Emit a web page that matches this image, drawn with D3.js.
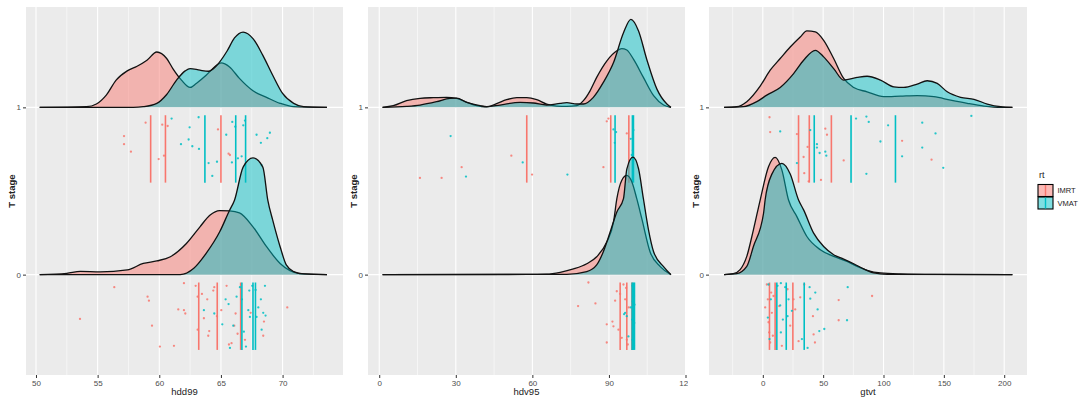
<!DOCTYPE html>
<html>
<head>
<meta charset="utf-8">
<script src="https://cdn.jsdelivr.net/npm/d3@7"></script>
<style>
body{margin:0;background:#fff;}
svg{font-family:"Liberation Sans",Arial,sans-serif;}
</style>
</head>
<body>
<svg id="chart" width="1084" height="399"></svg>
<script>
// categories
var stages = [1, 0]
var groups = ["IMRT", "VMAT"]

// x tick labels of each panel
var hdd99Ticks = [50, 55, 60, 65, 70]
var hdv95Ticks = [0, 30, 60, 90, 120]
var gtvtTicks = [0, 50, 100, 150, 200]

// density curves: [value, height in T stage units]
var hdd99Ridges = [
  {stage:1, rt:"IMRT", d:[[50.3,0],[54.1,0.004],[54.9,0.02],[55.7,0.073],[56.5,0.163],[57.4,0.218],[58.2,0.246],[59.0,0.282],[59.8,0.331],[60.6,0.292],[61.1,0.232],[61.8,0.163],[62.5,0.119],[63.0,0.143],[63.8,0.192],[64.5,0.242],[65.0,0.266],[65.7,0.242],[66.5,0.173],[67.6,0.099],[68.7,0.06],[69.8,0.024],[70.9,0.004],[73.6,0]]},
  {stage:1, rt:"VMAT", d:[[50.3,0],[57.9,0],[58.7,0.004],[59.8,0.024],[60.6,0.077],[61.4,0.163],[62.1,0.218],[62.5,0.232],[63.3,0.222],[64.0,0.216],[64.6,0.246],[65.5,0.337],[66.1,0.415],[66.8,0.45],[67.6,0.411],[68.4,0.311],[69.2,0.192],[70.0,0.083],[70.9,0.024],[71.7,0.004],[73.6,0]]},
  {stage:0, rt:"IMRT", d:[[50.3,0],[52.5,0.008],[53.6,0.02],[55.2,0.016],[57.4,0.028],[58.7,0.067],[59.8,0.082],[60.9,0.107],[62.2,0.186],[63.3,0.286],[64.1,0.355],[64.9,0.383],[65.7,0.381],[66.5,0.369],[67.6,0.286],[68.7,0.167],[69.8,0.067],[70.6,0.024],[71.4,0.006],[73.6,0]]},
  {stage:0, rt:"VMAT", d:[[50.3,0],[57.9,0],[61.7,0],[62.8,0.038],[63.8,0.127],[64.9,0.256],[65.7,0.385],[66.1,0.445],[66.8,0.643],[67.6,0.698],[68.4,0.643],[68.8,0.445],[69.2,0.326],[69.8,0.167],[70.3,0.058],[70.9,0.018],[71.7,0.004],[73.6,0]]}
]
var hdv95Ridges = [
  {stage:1, rt:"IMRT", d:[[1.3,0],[5.5,0.010],[10.7,0.040],[16.0,0.054],[21.2,0.058],[26.4,0.060],[30.3,0.054],[34.3,0.030],[38.2,0.010],[42.1,0.003],[46.0,0.022],[49.9,0.046],[53.9,0.058],[57.8,0.058],[61.7,0.046],[65.6,0.020],[69.5,0.008],[73.5,0.006],[77.4,0.010],[80.0,0.040],[82.6,0.099],[85.2,0.179],[89.2,0.278],[93.1,0.338],[95.0,0.351],[97.0,0.343],[99.6,0.288],[103.5,0.179],[107.5,0.070],[111.4,0.014],[114.3,0]]},
  {stage:1, rt:"VMAT", d:[[1.3,0],[10.7,0.006],[16.0,0.014],[22.5,0.034],[27.7,0.054],[30.3,0.055],[34.3,0.030],[39.5,0.010],[42.1,0.004],[47.3,0.014],[55.2,0.030],[60.4,0.026],[65.6,0.014],[70.9,0.024],[73.5,0.028],[77.4,0.020],[80.0,0.020],[83.9,0.060],[87.8,0.149],[91.8,0.268],[95.7,0.446],[98.6,0.526],[101.6,0.457],[104.8,0.288],[108.8,0.109],[112.7,0.020],[114.3,0]]},
  {stage:0, rt:"IMRT", d:[[1.3,0],[57.8,0.001],[65.6,0.003],[70.9,0.014],[76.1,0.034],[81.3,0.065],[85.2,0.107],[89.2,0.196],[91.8,0.315],[93.1,0.454],[95.0,0.563],[97.0,0.593],[99.0,0.554],[100.9,0.454],[102.9,0.333],[106.1,0.137],[110.1,0.048],[114.3,0]]},
  {stage:0, rt:"VMAT", d:[[1.3,0],[73.5,0.002],[81.3,0.018],[85.2,0.058],[87.8,0.137],[90.5,0.256],[93.1,0.375],[95.7,0.454],[97.0,0.631],[99.4,0.702],[101.6,0.633],[103.5,0.454],[105.5,0.268],[107.5,0.137],[111.4,0.048],[114.3,0]]}
]
var gtvtRidges = [
  {stage:1, rt:"IMRT", d:[[-32.1,0],[-21.6,0.004],[-13.3,0.034],[-2.2,0.127],[6.1,0.222],[14.4,0.292],[22.7,0.361],[31.0,0.421],[36.5,0.457],[43.5,0.451],[50.4,0.401],[58.7,0.292],[67.0,0.173],[75.3,0.119],[86.4,0.093],[100.2,0.064],[114.1,0.067],[127.9,0.070],[141.7,0.064],[155.6,0.043],[169.4,0.024],[183.3,0.008],[197.1,0],[206.8,0]]},
  {stage:1, rt:"VMAT", d:[[-32.1,0],[-16.1,0.004],[-5.0,0.034],[3.3,0.073],[14.4,0.119],[25.5,0.202],[33.8,0.282],[43.5,0.341],[50.4,0.302],[58.7,0.232],[67.0,0.163],[78.1,0.179],[86.4,0.186],[97.5,0.163],[108.5,0.123],[116.8,0.119],[127.9,0.139],[136.2,0.159],[144.5,0.143],[152.8,0.093],[163.9,0.060],[175.0,0.048],[186.0,0.020],[197.1,0.004],[206.8,0]]},
  {stage:0, rt:"IMRT", d:[[-32.1,0],[-24.4,0.006],[-18.8,0.030],[-13.3,0.109],[-7.8,0.268],[-2.2,0.446],[4.7,0.645],[10.2,0.701],[15.8,0.625],[21.3,0.446],[28.2,0.347],[36.5,0.228],[47.6,0.149],[58.7,0.109],[69.8,0.079],[78.1,0.049],[86.4,0.026],[97.5,0.010],[114.1,0.004],[141.7,0.001],[206.8,0]]},
  {stage:0, rt:"VMAT", d:[[-32.1,0],[-21.6,0.006],[-13.3,0.049],[-7.8,0.168],[0.6,0.367],[1.9,0.446],[7.5,0.601],[15.8,0.665],[22.7,0.601],[29.6,0.446],[33.8,0.387],[42.1,0.248],[50.4,0.168],[58.7,0.119],[67.0,0.093],[75.3,0.065],[83.6,0.034],[91.9,0.010],[103.0,0.002],[206.8,0]]}
]

// quantile lines: [stage, rt, value]
var hdd99Quantiles = [[1,"IMRT",59.3],[1,"IMRT",60.5],[1,"IMRT",65.0],[1,"VMAT",63.7],[1,"VMAT",66.2],[1,"VMAT",67.0],
  [0,"IMRT",63.2],[0,"IMRT",64.7],[0,"IMRT",66.6],[0,"VMAT",66.7],[0,"VMAT",67.6],[0,"VMAT",67.8]]
var hdv95Quantiles = [[1,"IMRT",57.8],[1,"IMRT",90.7],[1,"IMRT",97.8],[1,"VMAT",92.4],[1,"VMAT",99.2],[1,"VMAT",99.6],
  [0,"IMRT",94.4],[0,"IMRT",97.0],[0,"IMRT",99.0],[0,"VMAT",99.1],[0,"VMAT",99.6],[0,"VMAT",100.0]]
var gtvtQuantiles = [[1,"IMRT",29.6],[1,"IMRT",38.5],[1,"IMRT",56.8],[1,"VMAT",42.6],[1,"VMAT",73.1],[1,"VMAT",109.9],
  [0,"IMRT",5.5],[0,"IMRT",10.2],[0,"IMRT",24.9],[0,"VMAT",11.6],[0,"VMAT",19.4],[0,"VMAT",34.3]]

// jittered points: [stage, rt, value, jitter 0..1]
var hdd99Points = [
  [1,"IMRT",57.14,0.31],[1,"IMRT",57.14,0.43],[1,"IMRT",57.70,0.54],[1,"IMRT",58.89,0.11],[1,"IMRT",59.95,0.65],[1,"IMRT",60.24,0.14],
  [1,"IMRT",60.38,0.60],[1,"IMRT",60.68,0.16],[1,"IMRT",64.76,0.21],[1,"IMRT",65.62,0.57],[1,"IMRT",65.73,0.59],
  [1,"VMAT",61.0,0.05],[1,"VMAT",61.76,0.43],[1,"VMAT",62.38,0.36],[1,"VMAT",62.46,0.18],[1,"VMAT",62.68,0.46],[1,"VMAT",63.19,0.03],
  [1,"VMAT",63.22,0.50],[1,"VMAT",64.0,0.71],[1,"VMAT",64.30,0.90],[1,"VMAT",64.68,0.69],[1,"VMAT",65.43,0.29],[1,"VMAT",65.89,0.70],
  [1,"VMAT",65.92,0.10],[1,"VMAT",66.16,0.17],[1,"VMAT",66.38,0.64],[1,"VMAT",66.68,0.61],[1,"VMAT",66.81,0.15],[1,"VMAT",66.95,0.08],
  [1,"VMAT",67.89,0.29],[1,"VMAT",68.24,0.41],[1,"VMAT",68.30,0.74],[1,"VMAT",68.76,0.34],[1,"VMAT",68.97,0.26],
  [0,"IMRT",53.57,0.54],[0,"IMRT",56.35,0.07],[0,"IMRT",59.05,0.21],[0,"IMRT",59.16,0.27],[0,"IMRT",59.41,0.64],[0,"IMRT",60.05,0.95],
  [0,"IMRT",61.19,0.94],[0,"IMRT",61.54,0.40],[0,"IMRT",62.0,0.01],[0,"IMRT",62.0,0.41],[0,"IMRT",62.11,0.46],[0,"IMRT",62.95,0.05],
  [0,"IMRT",63.11,0.21],[0,"IMRT",63.11,0.70],[0,"IMRT",63.46,0.17],[0,"IMRT",63.62,0.53],[0,"IMRT",63.89,0.25],[0,"IMRT",63.97,0.79],
  [0,"IMRT",64.05,0.72],[0,"IMRT",64.38,0.12],[0,"IMRT",64.46,0.07],[0,"IMRT",64.68,0.50],[0,"IMRT",65.03,0.41],[0,"IMRT",65.46,0.05],
  [0,"IMRT",65.65,0.92],[0,"IMRT",65.86,0.90],[0,"IMRT",66.08,0.64],[0,"IMRT",66.19,0.46],[0,"IMRT",66.35,0.76],[0,"IMRT",66.95,0.85],
  [0,"IMRT",67.41,0.45],[0,"IMRT",68.43,0.79],[0,"IMRT",68.49,0.58],[0,"IMRT",70.38,0.37],
  [0,"VMAT",63.62,0.41],[0,"VMAT",64.46,0.46],[0,"VMAT",65.11,0.62],[0,"VMAT",65.38,0.25],[0,"VMAT",65.62,0.32],[0,"VMAT",65.73,0.97],
  [0,"VMAT",66.0,0.64],[0,"VMAT",66.27,0.21],[0,"VMAT",66.54,0.07],[0,"VMAT",66.70,0.25],[0,"VMAT",66.86,0.73],[0,"VMAT",67.03,0.95],
  [0,"VMAT",67.22,0.41],[0,"VMAT",67.30,0.12],[0,"VMAT",67.35,0.51],[0,"VMAT",67.54,0.05],[0,"VMAT",67.81,0.11],[0,"VMAT",67.89,0.51],
  [0,"VMAT",68.03,0.37],[0,"VMAT",68.24,0.25],[0,"VMAT",68.43,0.45],[0,"VMAT",68.57,0.05],[0,"VMAT",68.62,0.49],[0,"VMAT",68.30,0.70]
]
var hdv95Points = [
  [1,"IMRT",15.95,0.93],[1,"IMRT",24.44,0.93],[1,"IMRT",32.29,0.77],[1,"IMRT",51.76,0.60],[1,"IMRT",59.87,0.88],[1,"IMRT",87.84,0.77],
  [1,"IMRT",89.15,0.09],[1,"IMRT",89.80,0.05],[1,"IMRT",96.99,0.27],
  [1,"VMAT",27.97,0.31],[1,"VMAT",33.99,0.91],[1,"VMAT",56.21,0.70],[1,"VMAT",73.73,0.88],[1,"VMAT",91.76,0.21],[1,"VMAT",92.81,0.25],
  [1,"VMAT",92.29,0.41],[1,"VMAT",99.35,0.52],[1,"VMAT",98.95,0.59],[1,"VMAT",99.61,0.22],[1,"VMAT",98.56,0.35],
  [0,"IMRT",81.96,0.0],[0,"IMRT",77.91,0.35],[0,"IMRT",84.71,0.31],[0,"IMRT",89.15,0.62],[0,"IMRT",89.15,0.89],[0,"IMRT",91.37,0.58],
  [0,"IMRT",91.76,0.65],[0,"IMRT",92.42,0.27],[0,"IMRT",93.07,0.13],[0,"IMRT",93.73,0.70],[0,"IMRT",94.38,0.17],[0,"IMRT",95.03,0.82],
  [0,"IMRT",95.69,0.03],[0,"IMRT",96.34,0.25],[0,"IMRT",96.73,0.08],[0,"IMRT",96.99,0.85],[0,"IMRT",97.39,0.92],[0,"IMRT",97.78,0.37],
  [0,"VMAT",95.95,0.47],[0,"VMAT",96.34,0.45],[0,"VMAT",96.99,0.50],[0,"VMAT",97.65,0.80],[0,"VMAT",98.56,0.37],
  [0,"VMAT",99.2,0.05],[0,"VMAT",99.5,0.12],[0,"VMAT",99.8,0.20],[0,"VMAT",99.3,0.28],[0,"VMAT",100.0,0.33],[0,"VMAT",99.6,0.42],
  [0,"VMAT",99.1,0.55],[0,"VMAT",99.9,0.60],[0,"VMAT",99.4,0.68],[0,"VMAT",99.7,0.75],[0,"VMAT",99.2,0.85],[0,"VMAT",99.8,0.93],[0,"VMAT",99.5,0.98]
]
var gtvtPoints = [
  [1,"IMRT",5.54,0.03],[1,"IMRT",6.09,0.25],[1,"IMRT",28.24,0.28],[1,"IMRT",34.33,0.86],[1,"IMRT",33.78,0.62],[1,"IMRT",37.10,0.47],
  [1,"IMRT",37.93,0.98],[1,"IMRT",48.17,0.96],[1,"IMRT",51.77,0.20],[1,"IMRT",53.16,0.29],[1,"IMRT",67.0,0.67],[1,"IMRT",115.4,0.38],[1,"IMRT",139.8,0.66],
  [1,"VMAT",14.40,0.24],[1,"VMAT",28.24,0.71],[1,"VMAT",39.31,0.22],[1,"VMAT",44.85,0.43],[1,"VMAT",44.85,0.48],[1,"VMAT",47.07,0.56],
  [1,"VMAT",51.77,0.54],[1,"VMAT",52.60,0.60],[1,"VMAT",77.24,0.05],[1,"VMAT",85.82,0.02],[1,"VMAT",87.76,0.10],[1,"VMAT",85.82,0.87],
  [1,"VMAT",97.45,0.39],[1,"VMAT",103.8,0.15],[1,"VMAT",115.4,0.61],[1,"VMAT",132.1,0.11],[1,"VMAT",132.1,0.48],[1,"VMAT",143.1,0.27],
  [1,"VMAT",149.5,0.78],[1,"VMAT",172.8,0.01],
  [0,"IMRT",3.32,0.03],[0,"IMRT",1.94,0.37],[0,"IMRT",4.15,0.25],[0,"IMRT",4.71,0.59],[0,"IMRT",5.26,0.74],[0,"IMRT",6.09,0.89],
  [0,"IMRT",6.92,0.15],[0,"IMRT",7.48,0.45],[0,"IMRT",8.31,0.79],[0,"IMRT",8.86,0.20],[0,"IMRT",13.57,0.35],[0,"IMRT",15.78,0.94],
  [0,"IMRT",20.49,0.10],[0,"IMRT",22.70,0.64],[0,"IMRT",25.47,0.25],[0,"IMRT",26.85,0.40],[0,"IMRT",29.62,0.87],[0,"IMRT",31.0,0.22],
  [0,"IMRT",34.33,0.03],[0,"IMRT",41.53,0.50],[0,"IMRT",43.19,0.89],[0,"IMRT",42.08,0.77],[0,"IMRT",62.85,0.26],[0,"IMRT",62.85,0.56],[0,"IMRT",90.53,0.20],
  [0,"VMAT",4.71,0.03],[0,"VMAT",4.15,0.52],[0,"VMAT",5.54,0.84],[0,"VMAT",6.64,0.25],[0,"VMAT",12.18,0.05],[0,"VMAT",14.40,0.34],
  [0,"VMAT",14.95,0.01],[0,"VMAT",14.95,0.74],[0,"VMAT",16.61,0.55],[0,"VMAT",18.55,0.07],[0,"VMAT",20.49,0.50],[0,"VMAT",21.32,0.25],
  [0,"VMAT",24.09,0.42],[0,"VMAT",32.39,0.84],[0,"VMAT",37.10,0.97],[0,"VMAT",38.76,0.07],[0,"VMAT",39.31,0.24],[0,"VMAT",43.47,0.15],
  [0,"VMAT",45.40,0.40],[0,"VMAT",46.79,0.72],[0,"VMAT",50.94,0.69],[0,"VMAT",70.32,0.07],[0,"VMAT",69.77,0.56]
]

var colors = {IMRT:"#F8766D", VMAT:"#00BFC4"}

//layout of the three panels (pixels) and their x domains
var panels = [
  {title:"hdd99", left:26, right:343, clipL:0, clipR:345, titleX:11, domain:[49.19,74.9],
   ticks:hdd99Ticks, ridges:hdd99Ridges, quants:hdd99Quantiles, points:hdd99Points},
  {title:"hdv95", left:368, right:685, clipL:345, clipR:688, titleX:353, domain:[-4.4,119.8],
   ticks:hdv95Ticks, ridges:hdv95Ridges, quants:hdv95Quantiles, points:hdv95Points},
  {title:"gtvt", left:709, right:1027, clipL:688, clipR:1030, titleX:695, domain:[-44.6,218.9],
   ticks:gtvtTicks, ridges:gtvtRidges, quants:gtvtQuantiles, points:gtvtPoints}
]
var plotTop = 7, plotBottom = 375

var svg = d3.select("#chart")
var defs = svg.append("defs")

var drawPanel = function(p, i)
{
    var xScale = d3.scaleLinear().domain(p.domain).range([p.left, p.right])
    var yScale = d3.scaleLinear().domain([-0.6, 1.6]).range([plotBottom, plotTop])

    defs.append("clipPath").attr("id","plot"+i)
        .append("rect").attr("x",p.left).attr("y",plotTop)
        .attr("width",p.right-p.left).attr("height",plotBottom-plotTop)
    defs.append("clipPath").attr("id","img"+i)
        .append("rect").attr("x",p.clipL).attr("y",0)
        .attr("width",p.clipR-p.clipL).attr("height",399)

    var g = svg.append("g").attr("clip-path","url(#img"+i+")")

    g.append("rect")
        .attr("x",p.left).attr("y",plotTop)
        .attr("width",p.right-p.left).attr("height",plotBottom-plotTop)
        .attr("fill","#EBEBEB")

    // minor grid halfway between major ticks
    var step = p.ticks[1]-p.ticks[0]
    var minor = []
    for (var k = -1; k < p.ticks.length; k++) {
        var v = p.ticks[0] + step*(k+0.5)
        if (v > p.domain[0] && v < p.domain[1]) minor.push(v)
    }
    var ticksIn = p.ticks.filter(function(t){ return t >= p.domain[0] && t <= p.domain[1] })

    var plot = g.append("g").attr("clip-path","url(#plot"+i+")")

    plot.selectAll(".minor").data(minor).enter().append("line")
        .attr("x1",function(d){return xScale(d)}).attr("x2",function(d){return xScale(d)})
        .attr("y1",plotTop).attr("y2",plotBottom)
        .attr("stroke","#fff").attr("stroke-width",0.55)
    plot.selectAll(".major").data(ticksIn).enter().append("line")
        .attr("x1",function(d){return xScale(d)}).attr("x2",function(d){return xScale(d)})
        .attr("y1",plotTop).attr("y2",plotBottom)
        .attr("stroke","#fff").attr("stroke-width",1.1)
    plot.selectAll(".hmajor").data(stages).enter().append("line")
        .attr("x1",p.left).attr("x2",p.right)
        .attr("y1",function(d){return yScale(d)}).attr("y2",function(d){return yScale(d)})
        .attr("stroke","#fff").attr("stroke-width",1.1)

    stages.forEach(function(stage)
    {
        groups.forEach(function(rt)
        {
            var r = p.ridges.filter(function(d){return d.stage==stage && d.rt==rt})[0]
            var area = d3.area().curve(d3.curveMonotoneX)
                .x(function(d){return xScale(d[0])})
                .y0(yScale(stage))
                .y1(function(d){return yScale(stage + d[1])})
            var line = d3.line().curve(d3.curveMonotoneX)
                .x(function(d){return xScale(d[0])})
                .y(function(d){return yScale(stage + d[1])})
            plot.append("path").datum(r.d)
                .attr("d",area)
                .attr("fill",colors[rt]).attr("fill-opacity",0.48)
            plot.append("path").datum(r.d)
                .attr("d",line)
                .attr("fill","none").attr("stroke","#111").attr("stroke-width",1.3)
        })
        groups.forEach(function(rt)
        {
            plot.selectAll(null)
                .data(p.quants.filter(function(d){return d[0]==stage && d[1]==rt}))
                .enter().append("line")
                .attr("x1",function(d){return xScale(d[2])}).attr("x2",function(d){return xScale(d[2])})
                .attr("y1",yScale(stage-0.047)).attr("y2",yScale(stage-0.45))
                .attr("stroke",colors[rt]).attr("stroke-width",1.6)
            plot.selectAll(null)
                .data(p.points.filter(function(d){return d[0]==stage && d[1]==rt}))
                .enter().append("circle")
                .attr("cx",function(d){return xScale(d[2])})
                .attr("cy",function(d){return yScale(stage-0.047-d[3]*0.403)})
                .attr("r",1.15)
                .attr("fill",colors[rt]).attr("fill-opacity",0.85)
        })
    })

    drawAxes(g, p, xScale, yScale)
}

var drawAxes = function(g, p, xScale, yScale)
{
    var xAxis = d3.axisBottom(xScale).tickValues(p.ticks).tickSize(3).tickPadding(2)
    var ax = g.append("g")
        .attr("transform","translate(0,"+plotBottom+")")
        .call(xAxis)
    ax.select(".domain").remove()
    ax.selectAll(".tick line").attr("stroke","#333")
    ax.selectAll(".tick text").attr("fill","#4D4D4D").attr("font-size",8)
        .attr("font-family","Liberation Sans, Arial, sans-serif")

    var yAxis = d3.axisLeft(yScale).tickValues(stages).tickSize(3).tickPadding(2)
        .tickFormat(d3.format("d"))
    var ay = g.append("g")
        .attr("transform","translate("+p.left+",0)")
        .call(yAxis)
    ay.select(".domain").remove()
    ay.selectAll(".tick line").attr("stroke","#333")
    ay.selectAll(".tick text").attr("fill","#4D4D4D").attr("font-size",8)
        .attr("font-family","Liberation Sans, Arial, sans-serif")

    g.append("text")
        .text(p.title)
        .attr("text-anchor","middle")
        .attr("x",(p.left+p.right)/2)
        .attr("y",395)
        .attr("font-size",9.5)
        .attr("fill","#222")

    g.append("text")
        .text("T stage")
        .attr("text-anchor","middle")
        .attr("transform","translate("+(p.titleX+3.5)+","+((plotTop+plotBottom)/2)+") rotate(-90)")
        .attr("font-size",9.5)
        .attr("font-weight","bold")
        .attr("fill","#222")
}

var drawLegend = function()
{
    var lg = svg.append("g").attr("transform","translate(1038,0)")
    lg.append("text").text("rt").attr("x",1).attr("y",178)
        .attr("font-size",9).attr("fill","#222")
    var keys = lg.selectAll(".key").data(groups).enter().append("g")
        .attr("transform",function(d,i){return "translate(0,"+(184.5+i*12.5)+")"})
    keys.append("rect").attr("width",15).attr("height",12)
        .attr("fill","#fff")
    keys.append("rect").attr("width",15).attr("height",12)
        .attr("fill",function(d){return colors[d]}).attr("fill-opacity",0.5)
        .attr("stroke","#000").attr("stroke-width",1.1)
    keys.append("line").attr("x1",7.5).attr("x2",7.5).attr("y1",0.5).attr("y2",11.5)
        .attr("stroke",function(d){return colors[d]}).attr("stroke-width",1.4)
    keys.append("text").text(function(d){return d})
        .attr("x",19.5).attr("y",8.8)
        .attr("font-size",7.5).attr("fill","#222")
}

panels.forEach(drawPanel)
drawLegend()
</script>
</body>
</html>
